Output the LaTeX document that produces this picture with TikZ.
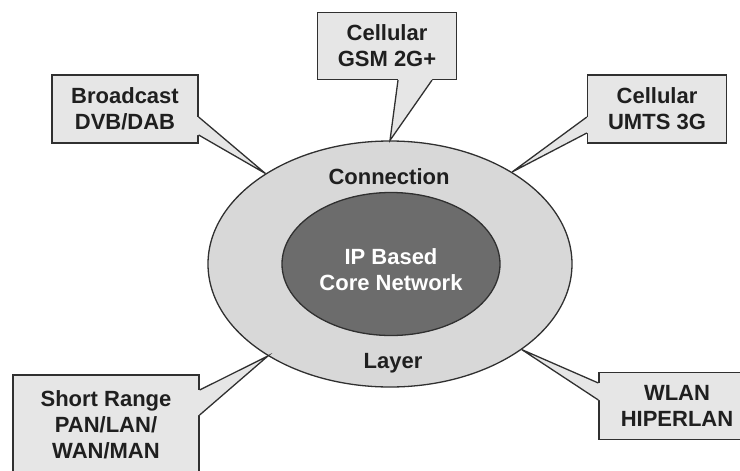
\documentclass[tikz,border=0pt]{standalone}
\usepackage{fontspec}
\setmainfont{Liberation Sans}
\usepackage{tikz}
\usetikzlibrary{shapes}

\definecolor{ringgray}{HTML}{D8D8D8}
\definecolor{coregray}{HTML}{6C6C6C}
\definecolor{boxgray}{HTML}{E6E6E6}
\definecolor{linegray}{HTML}{303030}

\begin{document}
\begin{tikzpicture}[x=1pt,y=-1pt,line width=1.3pt,
    lbl/.style={font=\bfseries\fontsize{22}{26}\selectfont,align=center,text=black!88},
    box/.style={lbl,rectangle,draw=linegray,fill=boxgray,inner sep=0pt}]
    \useasboundingbox (0,0) rectangle (740,471);
    \begin{scope}
    \clip (0,0) rectangle (740,471);
    % rings
    \node[ellipse,draw=linegray,fill=ringgray,minimum width=364pt,minimum height=246pt,inner sep=0pt] (ring) at (390,264) {};
    \node[ellipse,draw=linegray,fill=coregray,minimum width=218pt,minimum height=143pt,inner sep=0pt] (core) at (391,264) {};
    \node[lbl] (conn) at (389,177) {Connection};
    \node[lbl] (layer) at (393,363) {Layer};
    \node[lbl,text=white] (ip) at (391,270) {IP Based\\Core Network};
    % access networks
    \node[box,minimum width=139pt,minimum height=67pt] (gsm) at (387,46) {Cellular\\GSM 2G+};
    \node[box,minimum width=146pt,minimum height=68pt] (bcast) at (125,109) {Broadcast\\DVB/DAB};
    \node[box,minimum width=139pt,minimum height=68pt] (umts) at (657,109) {Cellular\\UMTS 3G};
    \node[box,minimum width=186pt,minimum height=100pt] (short) at (106,425) {Short Range\\PAN/LAN/\\WAN/MAN};
    \node[box,minimum width=156pt,minimum height=67pt] (wlan) at (677,406) {WLAN\\HIPERLAN};
    % tails
    \fill[boxgray] ([xshift=11pt,yshift=2pt]gsm.south) -- ([xshift=11pt]gsm.south) -- (ring.north)
      -- ([xshift=45pt]gsm.south) -- ([xshift=45pt,yshift=2pt]gsm.south) -- cycle;
    \draw[linegray] ([xshift=11pt]gsm.south) -- (ring.north) -- ([xshift=45pt]gsm.south);
    \fill[boxgray] ([xshift=-2pt,yshift=-8pt]bcast.east) -- ([yshift=-8pt]bcast.east) -- (ring.144)
      -- ([yshift=-26pt]bcast.east) -- ([xshift=-2pt,yshift=-26pt]bcast.east) -- cycle;
    \draw[linegray] ([yshift=-8pt]bcast.east) -- (ring.144) -- ([yshift=-26pt]bcast.east);
    \fill[boxgray] ([xshift=2pt,yshift=-8pt]umts.west) -- ([yshift=-8pt]umts.west) -- (ring.37)
      -- ([yshift=-24pt]umts.west) -- ([xshift=2pt,yshift=-24pt]umts.west) -- cycle;
    \draw[linegray] ([yshift=-8pt]umts.west) -- (ring.37) -- ([yshift=-24pt]umts.west);
    \fill[boxgray] ([xshift=-2pt,yshift=35pt]short.east) -- ([yshift=35pt]short.east) -- (ring.217)
      -- ([yshift=10pt]short.east) -- ([xshift=-2pt,yshift=10pt]short.east) -- cycle;
    \draw[linegray] ([yshift=35pt]short.east) -- (ring.217) -- ([yshift=10pt]short.east);
    \fill[boxgray] ([xshift=2pt,yshift=23pt]wlan.west) -- ([yshift=23pt]wlan.west) -- (ring.327)
      -- ([yshift=6pt]wlan.west) -- ([xshift=2pt,yshift=6pt]wlan.west) -- cycle;
    \draw[linegray] ([yshift=23pt]wlan.west) -- (ring.327) -- ([yshift=6pt]wlan.west);
    \end{scope}
\end{tikzpicture}
\end{document}
